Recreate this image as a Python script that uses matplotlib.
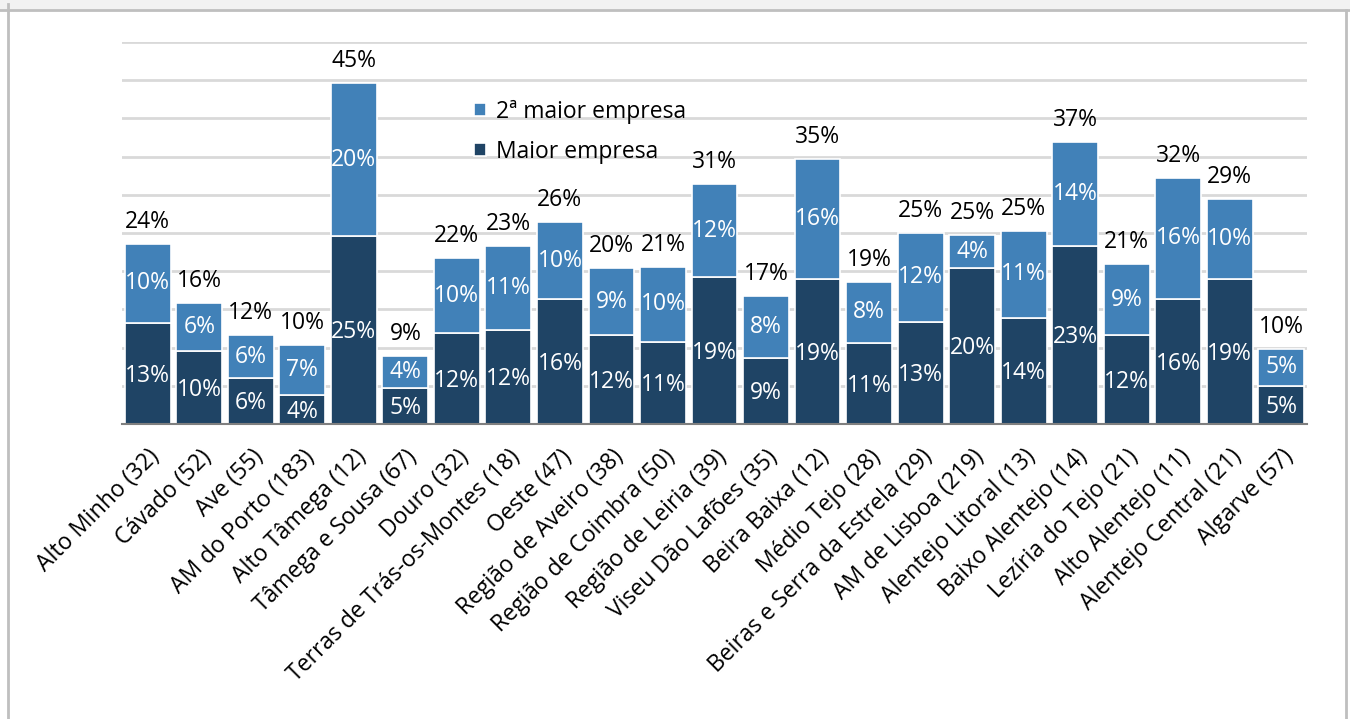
import matplotlib.pyplot as plt
from matplotlib.patches import Rectangle
from matplotlib.lines import Line2D
import numpy as np

plt.rcParams['font.family'] = ['Open Sans', 'DejaVu Sans']

# regiões NUTS III (número de empresas entre parêntesis)
regioes = ["Alto Minho (32)", "Cávado (52)", "Ave (55)", "AM do Porto (183)",
           "Alto Tâmega (12)", "Tâmega e Sousa (67)", "Douro (32)",
           "Terras de Trás-os-Montes (18)", "Oeste (47)", "Região de Aveiro (38)",
           "Região de Coimbra (50)", "Região de Leiria (39)", "Viseu Dão Lafões (35)",
           "Beira Baixa (12)", "Médio Tejo (28)", "Beiras e Serra da Estrela (29)",
           "AM de Lisboa (219)", "Alentejo Litoral (13)", "Baixo Alentejo (14)",
           "Lezíria do Tejo (21)", "Alto Alentejo (11)", "Alentejo Central (21)",
           "Algarve (57)"]
# quota (%) da maior empresa
maior = [13.2, 9.6, 6.0, 3.8, 24.6, 4.7, 11.9, 12.3, 16.4, 11.6, 10.7, 19.2,
         8.6, 19.0, 10.6, 13.4, 20.4, 13.9, 23.3, 11.6, 16.4, 19.0, 5.0]
# quota (%) da 2ª maior empresa
segunda = [10.4, 6.2, 5.6, 6.6, 20.0, 4.2, 9.8, 11.0, 10.0, 8.8, 9.9, 12.2,
           8.1, 15.7, 8.0, 11.6, 4.3, 11.4, 13.6, 9.3, 15.8, 10.4, 4.8]

escuro = '#1F4465'
claro = '#4181B8'
fs = 16.5

x = np.arange(len(regioes))
maior = np.array(maior)
segunda = np.array(segunda)
total = maior + segunda

fig = plt.figure(figsize=(13.5, 7.19), dpi=100)
ax = fig.add_axes([122/1350, 1 - 424/719, (1307-122)/1350, (424-42)/719])

b1 = ax.bar(x, maior, width=0.89, color=escuro, edgecolor='white', linewidth=1.2,
            label='Maior empresa', zorder=3)
b2 = ax.bar(x, segunda, width=0.89, bottom=maior, color=claro, edgecolor='white',
            linewidth=1.2, label='2ª maior empresa', zorder=3)

# rótulos dentro das barras e totais por cima
for i in range(len(x)):
    ax.text(x[i], maior[i] / 2 - 0.3, f"{maior[i]:.0f}%", ha='center', va='center',
            color='white', fontsize=fs, zorder=4)
    ax.text(x[i], maior[i] + segunda[i] / 2, f"{segunda[i]:.0f}%", ha='center',
            va='center', color='white', fontsize=fs, zorder=4)
    ax.text(x[i], total[i] + 1.3, f"{total[i]:.0f}%", ha='center', va='bottom',
            color='black', fontsize=fs, zorder=4)

ax.set_xlim(-0.5, len(x) - 0.5)
ax.set_ylim(0, 50)
ax.set_yticks(np.arange(0, 51, 5))
ax.set_yticklabels([])
ax.tick_params(axis='y', length=0)
ax.grid(axis='y', color='#D9D9D9', linewidth=2, zorder=0)
for s in ['top', 'right', 'left']:
    ax.spines[s].set_visible(False)
ax.spines['bottom'].set_color('#7F7F7F')
ax.spines['bottom'].set_linewidth(1.5)
ax.spines['bottom'].set_zorder(5)

ax.set_xticks(x)
ax.set_xticklabels(regioes, rotation=45, ha='right', rotation_mode='anchor', fontsize=fs)
ax.tick_params(axis='x', length=0, pad=15)

ax.legend(handles=[b2, b1], loc='upper left', bbox_to_anchor=(0.28, 0.903), frameon=False,
          fontsize=fs, handlelength=0.5, handleheight=0.5, handletextpad=0.45,
          labelspacing=0.7)

# moldura do gráfico
fig.patches.append(Rectangle((0, 1 - 10/719), 1, 10/719, transform=fig.transFigure,
                             facecolor='#F2F2F2', edgecolor='none', zorder=0))
fig.lines.append(Line2D([0, 1], [1 - 10/719, 1 - 10/719], transform=fig.transFigure,
                        color='#BFBFBF', linewidth=2))
fig.lines.append(Line2D([8/1350, 8/1350], [0, 1 - 4/719], transform=fig.transFigure,
                        color='#BFBFBF', linewidth=2))
fig.lines.append(Line2D([1346/1350, 1346/1350], [0, 1 - 10/719], transform=fig.transFigure,
                        color='#BFBFBF', linewidth=2))

fig.savefig('out.png', dpi=100)
